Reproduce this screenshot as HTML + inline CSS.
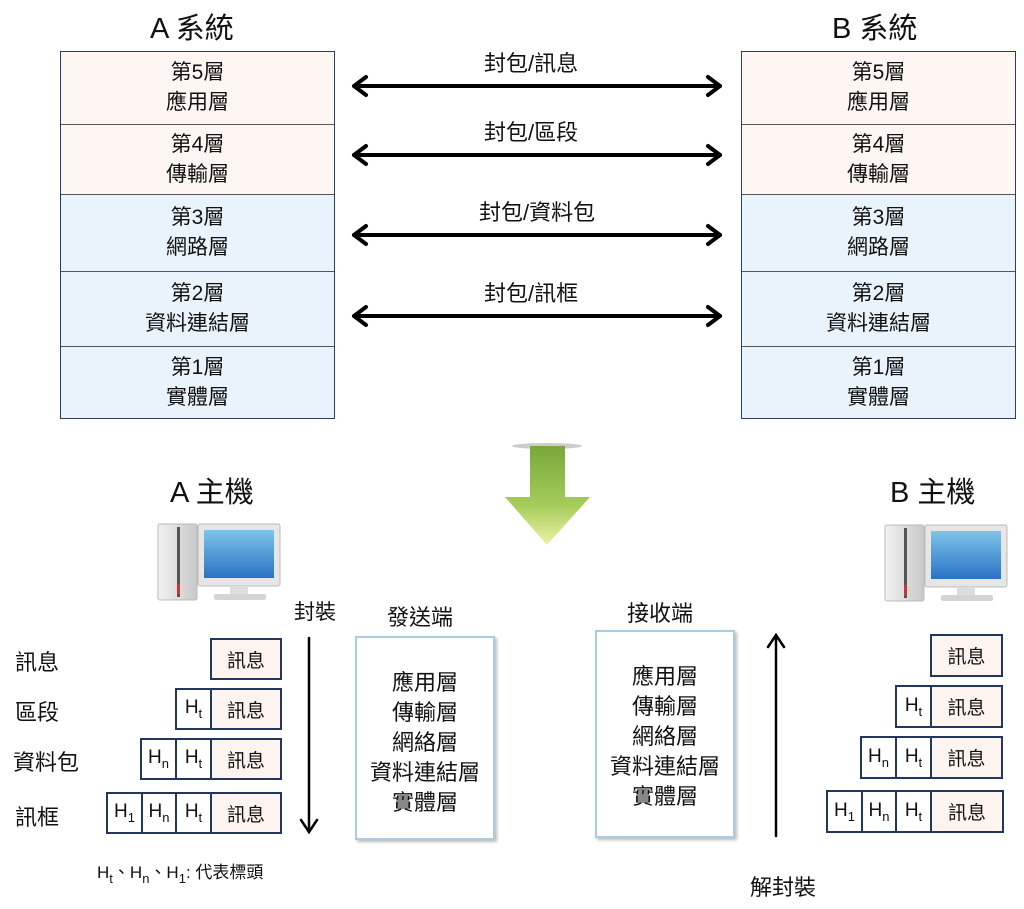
<!DOCTYPE html>
<html><head><meta charset="utf-8">
<style>
body{margin:0;width:1024px;height:909px;background:#fff;position:relative;overflow:hidden;font-family:"Liberation Sans","Noto Sans CJK TC",sans-serif;color:#111}
.a{position:absolute}
.stack{position:absolute;width:275px;top:51px;border:1.5px solid #2a3f66;box-sizing:border-box}
.stack div{box-sizing:border-box;border-top:1px solid #555;display:flex;align-items:center;justify-content:center;text-align:center;font-size:21px;line-height:30px}
.stack div:first-child{border-top:none}
.p{background:#fdf6f2}.b{background:#e9f3fb}
.bx{position:absolute;box-sizing:border-box;border:2px solid #23375e;display:flex;align-items:center;justify-content:center;font-size:19px}
.m{background:#fdf3ef}
sub{font-size:13px;vertical-align:-5px}
.lbl{position:absolute;font-size:22px}
.big{position:absolute;font-size:29px}
.lay{position:absolute;box-sizing:border-box;border:2px solid #a9cbe6;box-shadow:2px 2px 3px #bbb;text-align:center;font-size:22px;line-height:30px;padding-top:30px}
</style></head><body>
<div class="big" style="left:150px;top:5px">A 系統</div>
<div class="big" style="left:832px;top:5px">B 系統</div>

<div class="stack" style="left:60px">
<div class="p" style="height:72px">第5層<br>應用層</div>
<div class="p" style="height:70px">第4層<br>傳輸層</div>
<div class="b" style="height:77px">第3層<br>網路層</div>
<div class="b" style="height:75px">第2層<br>資料連結層</div>
<div class="b" style="height:72px">第1層<br>實體層</div>
</div>
<div class="stack" style="left:741px">
<div class="p" style="height:72px">第5層<br>應用層</div>
<div class="p" style="height:70px">第4層<br>傳輸層</div>
<div class="b" style="height:77px">第3層<br>網路層</div>
<div class="b" style="height:75px">第2層<br>資料連結層</div>
<div class="b" style="height:72px">第1層<br>實體層</div>
</div>

<div class="lbl" style="left:484px;top:46px">封包/訊息</div>
<div class="lbl" style="left:484px;top:115px">封包/區段</div>
<div class="lbl" style="left:479px;top:195px">封包/資料包</div>
<div class="lbl" style="left:484px;top:276px">封包/訊框</div>

<svg class="a" style="left:0;top:0" width="1024" height="909">
<defs>
<linearGradient id="g" x1="0" y1="0" x2="0" y2="1"><stop offset="0" stop-color="#78a83a"/><stop offset="0.6" stop-color="#a5cc5a"/><stop offset="1" stop-color="#eef3a8"/></linearGradient>
<linearGradient id="scr" x1="0" y1="0" x2="0" y2="1"><stop offset="0" stop-color="#7ec4ea"/><stop offset="1" stop-color="#2a72c4"/></linearGradient>
<linearGradient id="tw" x1="0" y1="0" x2="1" y2="0"><stop offset="0" stop-color="#f2f2f2"/><stop offset="1" stop-color="#c8c8c8"/></linearGradient>
<g id="pc">
<rect x="0" y="0" width="39" height="76" rx="2" fill="url(#tw)" stroke="#bbb"/>
<rect x="19" y="3" width="3" height="70" fill="#555"/>
<rect x="19" y="60" width="3" height="10" fill="#c33"/>
<rect x="40" y="0" width="82" height="62" rx="2" fill="#e6e6e6" stroke="#bbb"/>
<rect x="46" y="6" width="70" height="48" fill="url(#scr)"/>
<rect x="72" y="62" width="18" height="8" fill="#ddd"/>
<rect x="56" y="70" width="52" height="6" rx="2" fill="#d4d4d4"/>
</g>
</defs>
<g stroke="#000" stroke-width="4" fill="none" stroke-linecap="round" stroke-linejoin="round">
<line x1="354" y1="86" x2="720" y2="86"/><polyline points="366,77 354,86 366,95"/><polyline points="708,77 720,86 708,95"/>
<line x1="354" y1="155" x2="720" y2="155"/><polyline points="366,146 354,155 366,164"/><polyline points="708,146 720,155 708,164"/>
<line x1="354" y1="235" x2="720" y2="235"/><polyline points="366,226 354,235 366,244"/><polyline points="708,226 720,235 708,244"/>
<line x1="354" y1="316" x2="720" y2="316"/><polyline points="366,307 354,316 366,325"/><polyline points="708,307 720,316 708,325"/>
</g>
<ellipse cx="547" cy="446" rx="35" ry="3" fill="#999" opacity="0.5"/>
<polygon points="530,446 565,446 565,497 590,497 547,545 505,497 530,497" fill="url(#g)"/>
<use href="#pc" x="158" y="524"/>
<use href="#pc" x="885" y="525"/>
<g stroke="#000" stroke-width="2.5" fill="none" stroke-linecap="round">
<line x1="309" y1="638" x2="309" y2="832"/><polyline points="301,820 309,832 317,820"/>
<line x1="776" y1="635" x2="776" y2="836"/><polyline points="768,647 776,635 784,647"/>
</g>
</svg>

<div class="big" style="left:170px;top:469px">A 主機</div>
<div class="big" style="left:890px;top:469px">B 主機</div>

<div class="lbl" style="left:294px;top:596px;font-size:21px">封裝</div>
<div class="lbl" style="left:750px;top:870px;font-size:22px">解封裝</div>
<div class="lbl" style="left:387px;top:600px;font-size:22px">發送端</div>
<div class="lbl" style="left:627px;top:596px;font-size:22px">接收端</div>
<div class="lay" style="left:355px;top:636px;width:140px;height:204px">應用層<br>傳輸層<br>網絡層<br>資料連結層<br>實體層</div>
<div class="lay" style="left:595px;top:630px;width:140px;height:208px">應用層<br>傳輸層<br>網絡層<br>資料連結層<br>實體層</div>

<div class="lbl" style="left:15px;top:645px">訊息</div>
<div class="lbl" style="left:15px;top:695px">區段</div>
<div class="lbl" style="left:13px;top:745px">資料包</div>
<div class="lbl" style="left:15px;top:800px">訊框</div>

<div class="bx m" style="left:210px;top:638px;width:72px;height:42px">訊息</div>
<div class="bx" style="left:175px;top:688px;width:37px;height:42px"><span>H<sub>t</sub></span></div>
<div class="bx m" style="left:210px;top:688px;width:72px;height:42px">訊息</div>
<div class="bx" style="left:140px;top:738px;width:37px;height:42px"><span>H<sub>n</sub></span></div>
<div class="bx" style="left:175px;top:738px;width:37px;height:42px"><span>H<sub>t</sub></span></div>
<div class="bx m" style="left:210px;top:738px;width:72px;height:42px">訊息</div>
<div class="bx" style="left:106px;top:792px;width:37px;height:42px"><span>H<sub>1</sub></span></div>
<div class="bx" style="left:141px;top:792px;width:36px;height:42px"><span>H<sub>n</sub></span></div>
<div class="bx" style="left:175px;top:792px;width:37px;height:42px"><span>H<sub>t</sub></span></div>
<div class="bx m" style="left:210px;top:792px;width:72px;height:42px">訊息</div>

<div class="a" style="left:97px;top:858px;font-size:17px">H<sub>t</sub>、H<sub>n</sub>、H<sub>1</sub>: 代表標頭</div>

<div class="bx m" style="left:930px;top:634px;width:73px;height:43px">訊息</div>
<div class="bx" style="left:895px;top:685px;width:37px;height:43px"><span>H<sub>t</sub></span></div>
<div class="bx m" style="left:930px;top:685px;width:73px;height:43px">訊息</div>
<div class="bx" style="left:860px;top:736px;width:37px;height:43px"><span>H<sub>n</sub></span></div>
<div class="bx" style="left:895px;top:736px;width:37px;height:43px"><span>H<sub>t</sub></span></div>
<div class="bx m" style="left:930px;top:736px;width:73px;height:43px">訊息</div>
<div class="bx" style="left:826px;top:790px;width:37px;height:43px"><span>H<sub>1</sub></span></div>
<div class="bx" style="left:861px;top:790px;width:36px;height:43px"><span>H<sub>n</sub></span></div>
<div class="bx" style="left:895px;top:790px;width:37px;height:43px"><span>H<sub>t</sub></span></div>
<div class="bx m" style="left:930px;top:790px;width:74px;height:43px">訊息</div>
</body></html>
